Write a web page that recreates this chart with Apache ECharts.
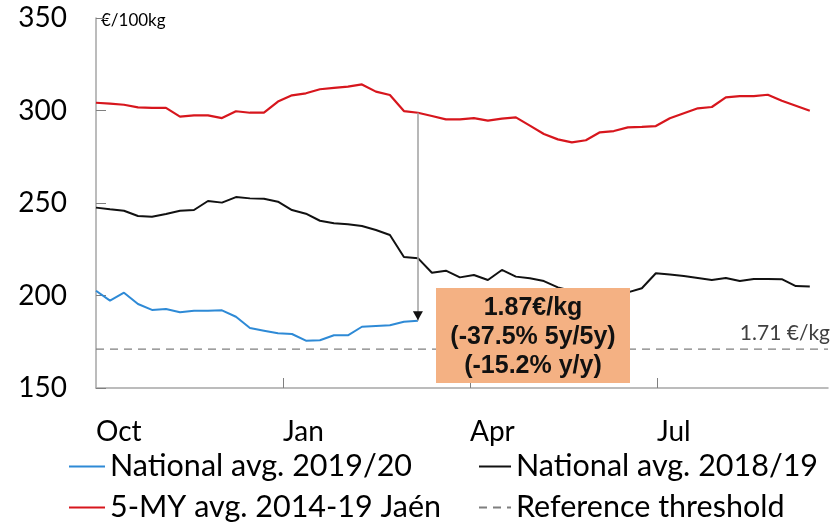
<!DOCTYPE html>
<html>
<head>
<meta charset="utf-8">
<script src="https://cdn.jsdelivr.net/npm/echarts@6/dist/echarts.min.js"></script>
<style>html,body{margin:0;padding:0;background:#fff}#c{width:833px;height:524px}</style>
</head>
<body>
<div id="c"></div>
<script>
// ---- data (weekly, week 0 = start of October) ----
const tickPositions = [0, 13.36, 26.72, 40.08];
const tickLabels = ['Oct', 'Jan', 'Apr', 'Jul'];
const national1920 = [202.6,197.2,201.5,195.4,192.2,192.7,190.9,191.8,191.8,192.0,188.5,182.4,181.0,179.6,179.2,175.6,175.8,178.5,178.5,183.1,183.5,183.9,185.8,186.4];
const national1819 = [247.5,246.6,245.8,243.0,242.6,244.1,245.8,246.2,251.1,250.2,253.2,252.5,252.3,250.7,246.2,244.2,240.4,239.0,238.5,237.6,235.4,232.7,220.8,220.2,212.3,213.4,209.8,211.1,208.4,213.8,210.2,209.3,207.8,204.4,202.5,201.5,201.0,201.0,201.7,203.9,212.0,211.3,210.5,209.5,208.4,209.5,207.8,208.9,208.9,208.8,205.1,204.8];
const avg5MYJaen = [304.2,303.7,303.1,301.7,301.4,301.4,296.7,297.4,297.4,295.9,299.6,298.8,298.8,304.8,308.2,309.3,311.5,312.2,312.9,314.1,310.2,308.4,299.7,298.8,297.0,295.2,295.2,295.9,294.5,295.6,296.3,291.8,287.3,284.4,282.8,283.9,288.2,288.9,290.9,291.2,291.6,295.8,298.5,301.2,301.9,307.1,307.8,307.8,308.5,305.3,302.6,299.9];
const referenceThreshold = 171;
const xMax = 52.3;
const arrowWeek = 23;
const thresholdLabel = '1.71 €/kg';
const boxLines = ['1.87€/kg', '(-37.5% 5y/5y)', '(-15.2% y/y)'];
const seriesNames = ['National avg. 2019/20', 'National avg. 2018/19', '5-MY avg. 2014-19 Jaén', 'Reference threshold'];

const toPairs = arr => arr.map((v, i) => [i, v]);
const FONT = 'Lato';
const chart = echarts.init(document.getElementById('c'), null, {renderer: 'canvas'});

const legendCommon = {
  orient: 'vertical', top: 451, height: 80, padding: 0,
  itemHeight: 14, itemGap: 10,
  itemStyle: {opacity: 0},
  textStyle: {fontFamily: FONT, fontSize: 30.5, color: '#000', lineHeight: 30}
};

chart.setOption({
  animation: false,
  backgroundColor: '#fff',
  grid: {left: 96, right: 5, top: 18, bottom: 136, containLabel: false},
  xAxis: {
    type: 'value', min: 0, max: xMax,
    axisLine: {show: true, lineStyle: {color: '#A6A6A6', width: 1.5}},
    axisTick: {show: true, inside: true, length: 10, customValues: tickPositions.slice(1), lineStyle: {color: '#7F7F7F', width: 1}},
    axisLabel: {
      show: true, customValues: tickPositions, align: 'left', margin: 30,
      fontFamily: FONT, fontSize: 28, color: '#000',
      formatter: v => { const k = tickPositions.findIndex(t => Math.abs(t - v) < 1e-6); return k >= 0 ? tickLabels[k] : ''; }
    },
    splitLine: {show: false}
  },
  yAxis: {
    type: 'value', min: 150, max: 350, interval: 50,
    name: '€/100kg', nameLocation: 'end', nameGap: -3,
    nameTextStyle: {fontFamily: FONT, fontSize: 17, color: '#000', align: 'left', verticalAlign: 'middle', padding: [0, 0, 0, 5]},
    axisLine: {show: true, lineStyle: {color: '#A6A6A6', width: 1.5}},
    axisTick: {show: true, inside: true, length: 10, lineStyle: {color: '#7F7F7F', width: 1}},
    axisLabel: {fontFamily: FONT, fontSize: 28, color: '#000', margin: 29},
    splitLine: {show: false}
  },
  legend: [
    Object.assign({}, legendCommon, {data: [seriesNames[0], seriesNames[2]], left: 68, itemWidth: 36}),
    Object.assign({}, legendCommon, {data: [seriesNames[1], seriesNames[3]], left: 478, itemWidth: 32})
  ],
  series: [
    {
      name: seriesNames[0], type: 'line', data: toPairs(national1920), symbol: 'none',
      lineStyle: {color: '#2E8AD6', width: 2}, itemStyle: {color: '#2E8AD6'}, z: 4,
      markLine: {
        silent: true, symbol: ['none', 'none'], animation: false,
        label: {show: false},
        lineStyle: {color: '#A0A0A0', width: 1.5, type: 'solid'},
        data: [[{coord: [arrowWeek, avg5MYJaen[arrowWeek]]}, {coord: [arrowWeek, national1920[arrowWeek]]}]]
      },
      markPoint: {
        silent: true, animation: false,
        data: [{coord: [arrowWeek, national1920[arrowWeek]], symbol: 'triangle', symbolRotate: 180, symbolSize: [10, 9], symbolOffset: [0, -5], itemStyle: {color: '#111'}, label: {show: false}}]
      }
    },
    {
      name: seriesNames[1], type: 'line', data: toPairs(national1819), symbol: 'none',
      lineStyle: {color: '#111111', width: 2}, itemStyle: {color: '#111111'}, z: 3
    },
    {
      name: seriesNames[2], type: 'line', data: toPairs(avg5MYJaen), symbol: 'none',
      lineStyle: {color: '#D7161D', width: 2.2}, itemStyle: {color: '#D7161D'}, z: 3
    },
    {
      name: seriesNames[3], type: 'line', data: [[0, referenceThreshold], [xMax, referenceThreshold]], symbol: 'none',
      lineStyle: {color: '#7F7F7F', width: 1.3, type: [8, 6]}, itemStyle: {color: '#7F7F7F'}, z: 2,
      markLine: {
        silent: true, symbol: ['none', 'none'], animation: false,
        lineStyle: {color: 'rgba(0,0,0,0)', width: 1, type: 'solid'},
        label: {show: true, position: 'insideEndTop', formatter: thresholdLabel, fontFamily: FONT, fontSize: 21, color: '#404040', distance: [-2, 5]},
        data: [{yAxis: referenceThreshold}]
      }
    }
  ],
  graphic: [
    {type: 'rect', z: 100, shape: {x: 436, y: 288, width: 194, height: 95}, style: {fill: '#F4B183'}},
    {type: 'text', z: 101, x: 533, y: 337, style: {text: boxLines.join('\n'), font: 'bold 25px "Liberation Sans", Arial, sans-serif', fill: '#111', align: 'center', verticalAlign: 'middle', lineHeight: 29}}
  ]
});
</script>
</body>
</html>
